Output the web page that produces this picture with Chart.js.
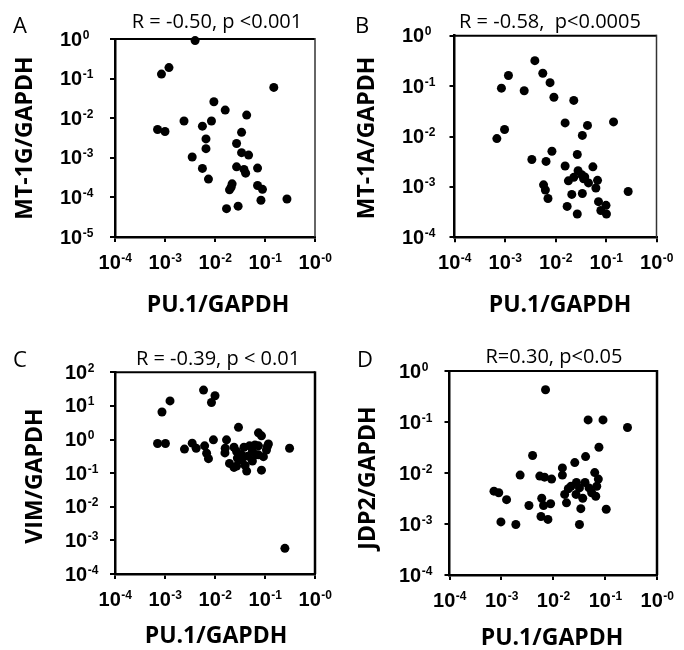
<!DOCTYPE html>
<html>
<head>
<meta charset="utf-8">
<script src="https://cdn.jsdelivr.net/npm/chart.js@4.4.0/dist/chart.umd.min.js"></script>
<style>
  html, body { margin: 0; padding: 0; background: #fff; }
  #wrap { position: relative; width: 684px; height: 650px; }
  #wrap canvas { position: absolute; left: 0; top: 0; }
</style>
</head>
<body>
<div id="wrap">
  <canvas id="panelA" width="684" height="650"></canvas>
  <canvas id="panelB" width="684" height="650"></canvas>
  <canvas id="panelC" width="684" height="650"></canvas>
  <canvas id="panelD" width="684" height="650"></canvas>
</div>
<script>
// ===== values =====

// x axis is the same on all four panels
const xTicks = [0.0001, 0.001, 0.01, 0.1, 1];
const xTickExp = ['-4', '-3', '-2', '-1', '-0'];
const xTitle = 'PU.1/GAPDH';

const letters = ['A', 'B', 'C', 'D'];
const titles = ['R = -0.50, p <0.001', 'R = -0.58,  p<0.0005', 'R = -0.39, p < 0.01', 'R=0.30, p<0.05'];
const yTitles = ['MT-1G/GAPDH', 'MT-1A/GAPDH', 'VIM/GAPDH', 'JDP2/GAPDH'];

const yTicksA = [0.00001, 0.0001, 0.001, 0.01, 0.1, 1];
const yTickExpA = ['-5', '-4', '-3', '-2', '-1', '0'];
const yTicksB = [0.0001, 0.001, 0.01, 0.1, 1];
const yTickExpB = ['-4', '-3', '-2', '-1', '0'];
const yTicksC = [0.0001, 0.001, 0.01, 0.1, 1, 10, 100];
const yTickExpC = ['-4', '-3', '-2', '-1', '0', '1', '2'];
const yTicksD = [0.0001, 0.001, 0.01, 0.1, 1];
const yTickExpD = ['-4', '-3', '-2', '-1', '0'];

// A: MT-1G
const aX = [0.004, 0.00085, 0.0012, 0.15, 0.0095, 0.016, 0.043, 0.0024, 0.0056, 0.0085,
            0.00071, 0.001, 0.0066, 0.034, 0.0066, 0.027, 0.034, 0.047, 0.0035, 0.0056,
            0.027, 0.038, 0.041, 0.071, 0.0074, 0.022, 0.0195, 0.021, 0.071, 0.089,
            0.083, 0.275, 0.017, 0.029];
const aY = [0.91, 0.13, 0.19, 0.06, 0.026, 0.016, 0.012, 0.0085, 0.0063, 0.0085,
            0.0052, 0.0046, 0.003, 0.0044, 0.0017, 0.0023, 0.00135, 0.00117, 0.00105, 0.00054,
            0.00059, 0.00051, 0.00041, 0.00055, 0.00029, 0.00022, 0.000155, 0.00018, 0.0002, 0.00016,
            0.000085, 0.000091, 0.000052, 0.00006];

// B: MT-1A
const bX = [0.0039, 0.0056, 0.0078, 0.00117, 0.00085, 0.0024, 0.0093, 0.023, 0.0155, 0.043,
            0.141, 0.034, 0.00098, 0.00069, 0.0085, 0.027, 0.0034, 0.0065, 0.0155, 0.055,
            0.028, 0.033, 0.038, 0.023, 0.018, 0.045, 0.068, 0.063, 0.0058, 0.0063,
            0.0071, 0.021, 0.034, 0.275, 0.071, 0.017, 0.027, 0.079, 0.1, 0.102, 0.036];
const bY = [0.32, 0.18, 0.117, 0.162, 0.091, 0.081, 0.06, 0.052, 0.0186, 0.0166,
            0.0195, 0.0105, 0.0138, 0.0091, 0.0051, 0.0044, 0.0035, 0.0032, 0.0026, 0.0025,
            0.0021, 0.00174, 0.00158, 0.00155, 0.00132, 0.0012, 0.00135, 0.00095, 0.0011, 0.00087,
            0.00059, 0.00071, 0.00074, 0.00081, 0.00051, 0.00041, 0.00029, 0.00034, 0.00043, 0.00029, 0.00145];

// C: VIM
const cX = [0.0059, 0.01, 0.0085, 0.00126, 0.00087, 0.0295, 0.074, 0.085, 0.00071, 0.00102,
            0.0093, 0.017, 0.00245, 0.0035, 0.0042, 0.0062, 0.0068, 0.0074, 0.016, 0.024,
            0.027, 0.034, 0.038, 0.049, 0.063, 0.074, 0.117, 0.107, 0.093, 0.074,
            0.056, 0.04, 0.043, 0.027, 0.0195, 0.024, 0.085, 0.31, 0.034, 0.25,
            0.028, 0.056, 0.0158, 0.045, 0.112, 0.066];
const cY = [29.5, 20, 12.6, 14.1, 6.6, 2.3, 1.58, 1.29, 0.76, 0.76,
            0.98, 0.98, 0.52, 0.78, 0.55, 0.65, 0.39, 0.27, 0.55, 0.59,
            0.44, 0.35, 0.59, 0.65, 0.69, 0.65, 0.74, 0.49, 0.31, 0.35,
            0.23, 0.17, 0.115, 0.162, 0.195, 0.148, 0.123, 0.55, 0.245, 0.00058,
            0.28, 0.45, 0.4, 0.32, 0.63, 0.355];

// D: JDP2
const dX = [0.0071, 0.047, 0.091, 0.27, 0.076, 0.004, 0.042, 0.026, 0.015, 0.015,
            0.0023, 0.0055, 0.0068, 0.0093, 0.063, 0.074, 0.00072, 0.00089, 0.00126, 0.0034,
            0.006, 0.0065, 0.0089, 0.00098, 0.0019, 0.0058, 0.0079, 0.032, 0.034, 0.105,
            0.018, 0.0166, 0.022, 0.028, 0.032, 0.0275, 0.037, 0.049, 0.055, 0.066,
            0.041, 0.069, 0.0195];
const dY = [0.43, 0.11, 0.11, 0.078, 0.032, 0.022, 0.021, 0.016, 0.0126, 0.0091,
            0.0091, 0.0087, 0.0083, 0.0076, 0.0102, 0.0076, 0.0044, 0.0041, 0.003, 0.0023,
            0.0032, 0.0023, 0.0025, 0.0011, 0.00098, 0.0014, 0.00123, 0.00098, 0.002, 0.00195,
            0.0026, 0.0038, 0.0055, 0.0065, 0.0051, 0.0038, 0.0032, 0.0051, 0.0041, 0.0035,
            0.0065, 0.0055, 0.0049];

// ===== page layout (pixels on the 684x650 page) =====
const layout = [
    { box: { left: 115, top: 39, right: 315, bottom: 237 }, letter: [13, 33], title: [217, 28],
      yTitle: [25, 138], xTitle: [218, 312], yLabelX: 60, rightWidth: 1.5 },
    { box: { left: 454.5, top: 35.7, right: 656.5, bottom: 237.3 }, letter: [355, 33], title: [550, 28],
      yTitle: [367, 138], xTitle: [560, 312], yLabelX: 402, rightWidth: 1.5 },
    { box: { left: 115, top: 372.3, right: 315, bottom: 574 }, letter: [13, 367], title: [218, 365],
      yTitle: [35, 476], xTitle: [216, 643], yLabelX: 65, rightWidth: 2.5 },
    { box: { left: 449.5, top: 371, right: 657, bottom: 575 }, letter: [357, 367], title: [554, 363],
      yTitle: [368.5, 478], xTitle: [552, 645], yLabelX: 399, rightWidth: 2.5 }
];

// draw "10" with a raised exponent
function drawPower(ctx, exp, px, baseline, align) {
    ctx.textAlign = 'left';
    ctx.font = 'bold 20px "Liberation Sans"';
    const w1 = ctx.measureText('10').width;
    ctx.font = 'bold 12px "Liberation Sans"';
    const w2 = ctx.measureText(exp).width;
    const x0 = align === 'center' ? px - (w1 + w2) / 2 : px;
    ctx.font = 'bold 20px "Liberation Sans"';
    ctx.fillText('10', x0, baseline);
    ctx.font = 'bold 12px "Liberation Sans"';
    ctx.fillText(exp, x0 + w1 + 0.5, baseline - 7);
}

// texts and the top/right frame of each panel
const panelText = {
    id: 'panelText',
    beforeDatasetsDraw(chart, args, o) {
        const { ctx, chartArea: a } = chart;
        ctx.save();
        ctx.strokeStyle = '#000';
        ctx.lineWidth = 2;
        ctx.beginPath();
        ctx.moveTo(a.left, a.top);
        ctx.lineTo(a.right, a.top);
        ctx.stroke();
        ctx.lineWidth = o.rightWidth;
        ctx.strokeStyle = o.rightWidth < 2 ? '#333' : '#000';
        ctx.beginPath();
        ctx.moveTo(a.right, a.top - 1);
        ctx.lineTo(a.right, a.bottom);
        ctx.stroke();
        ctx.restore();
    },
    afterDraw(chart, args, o) {
        const { ctx, chartArea: a, scales } = chart;
        ctx.save();
        ctx.fillStyle = '#000';
        ctx.textBaseline = 'alphabetic';

        ctx.textAlign = 'left';
        ctx.font = '22px "Open Sans"';
        ctx.fillText(o.letter, o.letterPos[0], o.letterPos[1]);

        ctx.textAlign = 'center';
        ctx.font = '20px "Open Sans"';
        ctx.fillText(o.title, o.titlePos[0], o.titlePos[1]);

        ctx.font = 'bold 23px "Open Sans"';
        ctx.fillText(o.xTitle, o.xTitlePos[0], o.xTitlePos[1]);

        ctx.save();
        ctx.translate(o.yTitlePos[0], o.yTitlePos[1]);
        ctx.rotate(-Math.PI / 2);
        ctx.textBaseline = 'middle';
        ctx.fillText(o.yTitle, 0, 0);
        ctx.restore();

        o.yTicks.forEach((v, i) => {
            drawPower(ctx, o.yExp[i], o.yLabelX, scales.y.getPixelForValue(v) + 6.5, 'left');
        });
        o.xTicks.forEach((v, i) => {
            drawPower(ctx, o.xExp[i], scales.x.getPixelForValue(v), a.bottom + 32, 'center');
        });
        ctx.restore();
    }
};

function makePanel(index, canvasId, xs, ys, yTicks, yExp) {
    const L = layout[index];
    const axisGrid = { drawOnChartArea: false, drawTicks: true, tickLength: 5, color: '#000', lineWidth: 2 };
    const axisBorder = { display: true, color: '#000', width: 2.5 };

    return new Chart(document.getElementById(canvasId), {
        type: 'scatter',
        data: {
            datasets: [{
                data: xs.map((v, i) => ({ x: v, y: ys[i] })),
                backgroundColor: '#000',
                borderWidth: 0,
                pointRadius: 4.5,
                clip: false
            }]
        },
        plugins: [panelText],
        options: {
            responsive: false,
            animation: false,
            events: [],
            layout: {
                padding: {
                    left: L.box.left - 5,
                    top: L.box.top,
                    right: 684 - L.box.right,
                    bottom: 650 - L.box.bottom - 5
                }
            },
            plugins: {
                legend: { display: false },
                tooltip: { enabled: false },
                panelText: {
                    letter: letters[index], letterPos: L.letter,
                    title: titles[index], titlePos: L.title,
                    yTitle: yTitles[index], yTitlePos: L.yTitle,
                    xTitle: xTitle, xTitlePos: L.xTitle,
                    yTicks: yTicks, yExp: yExp, yLabelX: L.yLabelX,
                    xTicks: xTicks, xExp: xTickExp,
                    rightWidth: L.rightWidth
                }
            },
            scales: {
                x: {
                    type: 'logarithmic',
                    min: xTicks[0],
                    max: xTicks[xTicks.length - 1],
                    afterBuildTicks: s => { s.ticks = xTicks.map(v => ({ value: v })); },
                    ticks: { display: false },
                    grid: axisGrid,
                    border: axisBorder
                },
                y: {
                    type: 'logarithmic',
                    min: yTicks[0],
                    max: yTicks[yTicks.length - 1],
                    afterBuildTicks: s => { s.ticks = yTicks.map(v => ({ value: v })); },
                    ticks: { display: false },
                    grid: axisGrid,
                    border: axisBorder
                }
            }
        }
    });
}

makePanel(0, 'panelA', aX, aY, yTicksA, yTickExpA);
makePanel(1, 'panelB', bX, bY, yTicksB, yTickExpB);
makePanel(2, 'panelC', cX, cY, yTicksC, yTickExpC);
makePanel(3, 'panelD', dX, dY, yTicksD, yTickExpD);
</script>
</body>
</html>
